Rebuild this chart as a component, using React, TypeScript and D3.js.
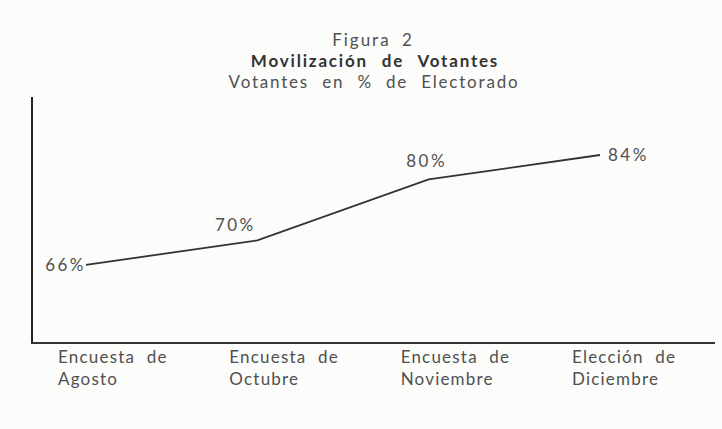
import * as d3 from "d3";

const categories = [
  ["Encuesta de", "Agosto"],
  ["Encuesta de", "Octubre"],
  ["Encuesta de", "Noviembre"],
  ["Elección de", "Diciembre"],
];
const votantes = [66, 70, 80, 84];
const valueLabels = ["66%", "70%", "80%", "84%"];

// where each value label sits relative to its point
const labelPlacement = [
  { anchor: "end", dx: 0, dy: 0 },
  { anchor: "middle", dx: -22, dy: -15 },
  { anchor: "middle", dx: -2, dy: -18 },
  { anchor: "start", dx: 8, dy: 0 },
];

const W = 722;
const H = 429;
const font = "Lato, 'Noto Sans', sans-serif";
const ink = "#505050";

export default function App() {
  const keys = categories.map((c) => c.join(" "));
  const x = d3.scalePoint().domain(keys).range([86, 600]);
  const y = d3.scaleLinear().domain([53.2, 93.5]).range([343, 97]);

  const line = d3
    .line<number>()
    .x((_, i) => x(keys[i])!)
    .y((d) => y(d));

  return (
    <svg
      width={W}
      height={H}
      style={{ position: "absolute", left: 0, top: 0, background: "#fcfcfb" }}
      fontFamily={font}
    >
      <g fill={ink} textAnchor="middle">
        <text x={373} y={40} dy="0.35em" fontSize={17} letterSpacing={2} wordSpacing={5}>
          Figura 2
        </text>
        <text
          x={375}
          y={61}
          dy="0.35em"
          fontSize={17}
          fontWeight="bold"
          letterSpacing={1.8}
          wordSpacing={8}
          fill="#333"
        >
          Movilización de Votantes
        </text>
        <text x={374} y={82} dy="0.35em" fontSize={17} letterSpacing={1.8} wordSpacing={7}>
          Votantes en % de Electorado
        </text>
      </g>

      {/* axes */}
      <line x1={32} x2={32} y1={97} y2={343} stroke="#222" strokeWidth={2} />
      <line x1={31} x2={715} y1={343} y2={343} stroke="#333" strokeWidth={2} />

      <path d={line(votantes) ?? ""} fill="none" stroke="#333" strokeWidth={1.8} />

      {votantes.map((v, i) => {
        const p = labelPlacement[i];
        return (
          <text
            key={keys[i]}
            x={x(keys[i])! + p.dx}
            y={y(v) + p.dy}
            dy="0.35em"
            textAnchor={p.anchor}
            fontSize={17}
            letterSpacing={2.5}
            fill={ink}
          >
            {valueLabels[i]}
          </text>
        );
      })}

      {categories.map((c, i) => (
        <text
          key={keys[i]}
          x={x(keys[i])! - 28}
          fontSize={17}
          fill={ink}
          letterSpacing={1.2}
          wordSpacing={6}
        >
          <tspan y={357} dy="0.35em">
            {c[0]}
          </tspan>
          <tspan x={x(keys[i])! - 28} y={379} dy="0.35em">
            {c[1]}
          </tspan>
        </text>
      ))}
    </svg>
  );
}
